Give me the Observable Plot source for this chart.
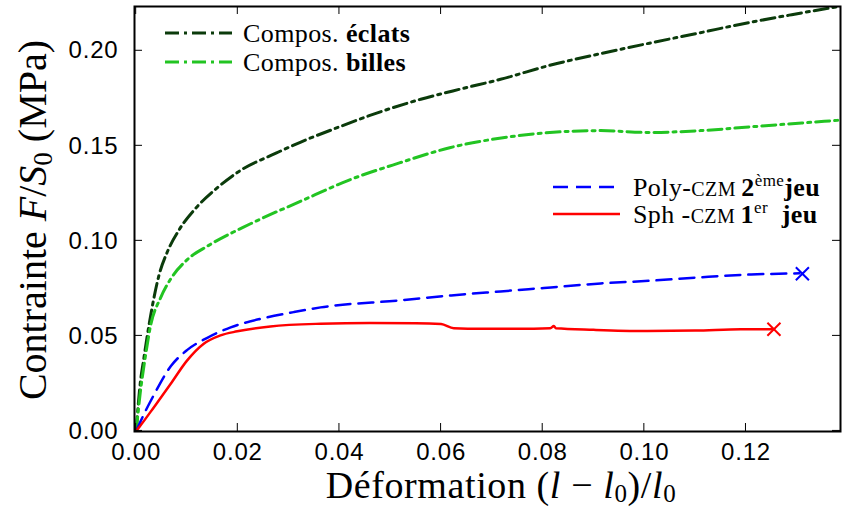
<!DOCTYPE html>
<html><head><meta charset="utf-8">
<script src="https://cdn.jsdelivr.net/npm/d3@7"></script>
<script src="https://cdn.jsdelivr.net/npm/@observablehq/plot@0.6"></script>
<style>body{margin:0;background:#fff} #chart svg{display:block}</style>
</head><body><div id="chart"></div>
<script>
// ---- data ----
const eclatsX = [0, 0.0008, 0.0015, 0.0028, 0.0045, 0.0061, 0.0085, 0.012, 0.016, 0.0205, 0.0274, 0.0324, 0.040, 0.046, 0.056, 0.064, 0.0717, 0.0816, 0.0914, 0.101, 0.111, 0.119, 0.129, 0.1386];
const eclatsY = [0, 0.025, 0.038, 0.060, 0.082, 0.094, 0.106, 0.118, 0.128, 0.137, 0.146, 0.152, 0.160, 0.166, 0.1745, 0.180, 0.185, 0.1925, 0.1985, 0.204, 0.2095, 0.214, 0.219, 0.2235];
const billesX = [0, 0.0008, 0.0018, 0.0028, 0.0048, 0.0068, 0.010, 0.0142, 0.0225, 0.0325, 0.0419, 0.0518, 0.0617, 0.0715, 0.0814, 0.0914, 0.101, 0.111, 0.121, 0.131, 0.1386];
const billesY = [0, 0.020, 0.039, 0.055, 0.070, 0.080, 0.090, 0.0975, 0.109, 0.121, 0.132, 0.141, 0.149, 0.154, 0.157, 0.158, 0.157, 0.158, 0.160, 0.162, 0.1635];
const polyX = [0, 0.00085, 0.0035, 0.0068, 0.010, 0.014, 0.0186, 0.0245, 0.031, 0.0363, 0.052, 0.062, 0.0717, 0.0816, 0.0914, 0.101, 0.111, 0.121, 0.1305];
const polyY = [0, 0.0050, 0.019, 0.034, 0.0425, 0.049, 0.0545, 0.059, 0.0625, 0.065, 0.0687, 0.0713, 0.0734, 0.0755, 0.0776, 0.079, 0.0808, 0.0823, 0.0829];
const sphX = [0, 0.0006, 0.0035, 0.0068, 0.010, 0.0133, 0.0166, 0.0199, 0.0264, 0.0363, 0.046, 0.055, 0.060, 0.0625, 0.068, 0.075, 0.0815, 0.0822, 0.0826, 0.090, 0.100, 0.110, 0.119, 0.1255];
const sphY = [0, 0.002, 0.0125, 0.0248, 0.037, 0.0459, 0.0503, 0.0524, 0.055, 0.0564, 0.0568, 0.0567, 0.0562, 0.054, 0.0537, 0.0537, 0.054, 0.0552, 0.054, 0.0532, 0.0526, 0.0528, 0.0535, 0.0535];
const endX = [0.1311, 0.1255];
const endY = [0.0827, 0.0535];
const endColors = ["#0000ff", "#ff0000"];
const xTicks = [0, 0.02, 0.04, 0.06, 0.08, 0.10, 0.12];
const yTicks = [0, 0.05, 0.10, 0.15, 0.20];

const zip = (xs, ys) => xs.map((x, i) => ({x, y: ys[i]}));
const cDark = "#0b3b0b", cLight = "#22c422", cBlue = "#0000ff", cRed = "#ff0000";
const dashDot = "14,5,3,5", dashed = "15,8";
const ends = endX.map((x, i) => ({x, y: endY[i], c: endColors[i]}));

const chart = Plot.plot({
  width: 842, height: 508,
  marginLeft: 134, marginRight: 2, marginTop: 6, marginBottom: 77,
  style: {fontFamily: "'Liberation Sans', Arial, sans-serif", fontSize: "24px", letterSpacing: "0.8px", color: "black", background: "white"},
  x: {domain: [-0.00033, 0.1386]},
  y: {domain: [-0.0003, 0.2233]},
  marks: [
    Plot.axisX({ticks: xTicks, tickFormat: d3.format(".2f"), tickSize: 0, tickPadding: 11, label: null}),
    Plot.axisY({ticks: yTicks, tickFormat: d3.format(".2f"), tickSize: 0, tickPadding: 16, label: null}),
    Plot.line(zip(eclatsX, eclatsY), {x: "x", y: "y", stroke: cDark, strokeWidth: 3, strokeDasharray: dashDot, curve: "monotone-x", clip: true}),
    Plot.line(zip(billesX, billesY), {x: "x", y: "y", stroke: cLight, strokeWidth: 3, strokeDasharray: dashDot, curve: "monotone-x", clip: true}),
    Plot.line(zip(polyX, polyY), {x: "x", y: "y", stroke: cBlue, strokeWidth: 2.5, strokeDasharray: dashed, curve: "monotone-x", clip: true}),
    Plot.line(zip(sphX, sphY), {x: "x", y: "y", stroke: cRed, strokeWidth: 2.5, curve: "monotone-x", clip: true}),
    Plot.dot(ends, {x: "x", y: "y", symbol: "times", r: 6, stroke: "c", strokeWidth: 2}),
    Plot.frame({stroke: "black", strokeWidth: 2})
  ]
});
document.getElementById("chart").appendChild(chart);

const svg = d3.select(chart);
const sx = chart.scale("x"), sy = chart.scale("y");
const L = 134, R = 840, T = 6, B = 431, tl = 8;
const tg = svg.append("g").attr("stroke", "black").attr("stroke-width", 1);
xTicks.forEach(v => {
  const px = sx.apply(v);
  tg.append("line").attr("x1", px).attr("x2", px).attr("y1", B).attr("y2", B - tl);
  tg.append("line").attr("x1", px).attr("x2", px).attr("y1", T).attr("y2", T + tl);
});
yTicks.forEach(v => {
  const py = sy.apply(v);
  tg.append("line").attr("y1", py).attr("y2", py).attr("x1", L).attr("x2", L + tl);
  tg.append("line").attr("y1", py).attr("y2", py).attr("x1", R).attr("x2", R - tl);
});

const serif = "'Liberation Serif', 'Times New Roman', serif";
// axis titles
const xl = svg.append("text").attr("x", 501).attr("y", 498).attr("text-anchor", "middle")
  .attr("font-family", serif).attr("font-size", 38).attr("letter-spacing", "0.6px").attr("fill", "black");
xl.append("tspan").text("Déformation (");
xl.append("tspan").attr("font-style", "italic").text("l");
xl.append("tspan").text(" − ");
xl.append("tspan").attr("font-style", "italic").text("l");
xl.append("tspan").attr("font-size", 25).attr("dy", 4).text("0");
xl.append("tspan").attr("dy", -4).text(")/");
xl.append("tspan").attr("font-style", "italic").text("l");
xl.append("tspan").attr("font-size", 25).attr("dy", 4).text("0");

const yl = svg.append("text").attr("transform", "translate(46,220) rotate(-90)").attr("text-anchor", "middle")
  .attr("font-family", serif).attr("font-size", 40).attr("letter-spacing", 0).attr("fill", "black");
yl.append("tspan").text("Contrainte ");
yl.append("tspan").attr("font-style", "italic").text("F");
yl.append("tspan").text("/");
yl.append("tspan").attr("font-style", "italic").text("S");
yl.append("tspan").attr("font-size", 27).attr("dy", 6).text("0");
yl.append("tspan").attr("dy", -6).text(" (MPa)");

// legends
function swatch(y, x1, x2, color, dash, w) {
  svg.append("line").attr("x1", x1).attr("x2", x2).attr("y1", y).attr("y2", y)
    .attr("stroke", color).attr("stroke-width", w).attr("stroke-dasharray", dash || null);
}
function legText(x, y) {
  return svg.append("text").attr("x", x).attr("y", y).attr("text-anchor", "start")
    .attr("font-family", serif).attr("font-size", 26).attr("letter-spacing", "0.4px").attr("fill", "black");
}
swatch(33, 165, 232, cDark, dashDot, 3);
swatch(62, 165, 232, cLight, dashDot, 3);
let t = legText(243, 42); t.append("tspan").text("Compos. "); t.append("tspan").attr("font-weight", "bold").text("éclats");
t = legText(243, 71); t.append("tspan").text("Compos. "); t.append("tspan").attr("font-weight", "bold").text("billes");
swatch(187, 553, 620, cBlue, dashed, 2.5);
swatch(214, 553, 620, cRed, null, 2.5);
t = legText(633, 196);
t.append("tspan").text("Poly-");
t.append("tspan").attr("font-size", 20).text("CZM ");
t.append("tspan").attr("font-weight", "bold").text("2");
t.append("tspan").attr("font-size", 17).attr("dy", -10).text("ème");
t.append("tspan").attr("font-weight", "bold").attr("dy", 10).text("jeu");
t = legText(633, 223);
t.append("tspan").text("Sph -");
t.append("tspan").attr("font-size", 20).text("CZM ");
t.append("tspan").attr("font-weight", "bold").text("1");
t.append("tspan").attr("font-size", 17).attr("dy", -10).text("er");
t.append("tspan").attr("font-weight", "bold").attr("dy", 10).text("  jeu");
</script></body></html>
